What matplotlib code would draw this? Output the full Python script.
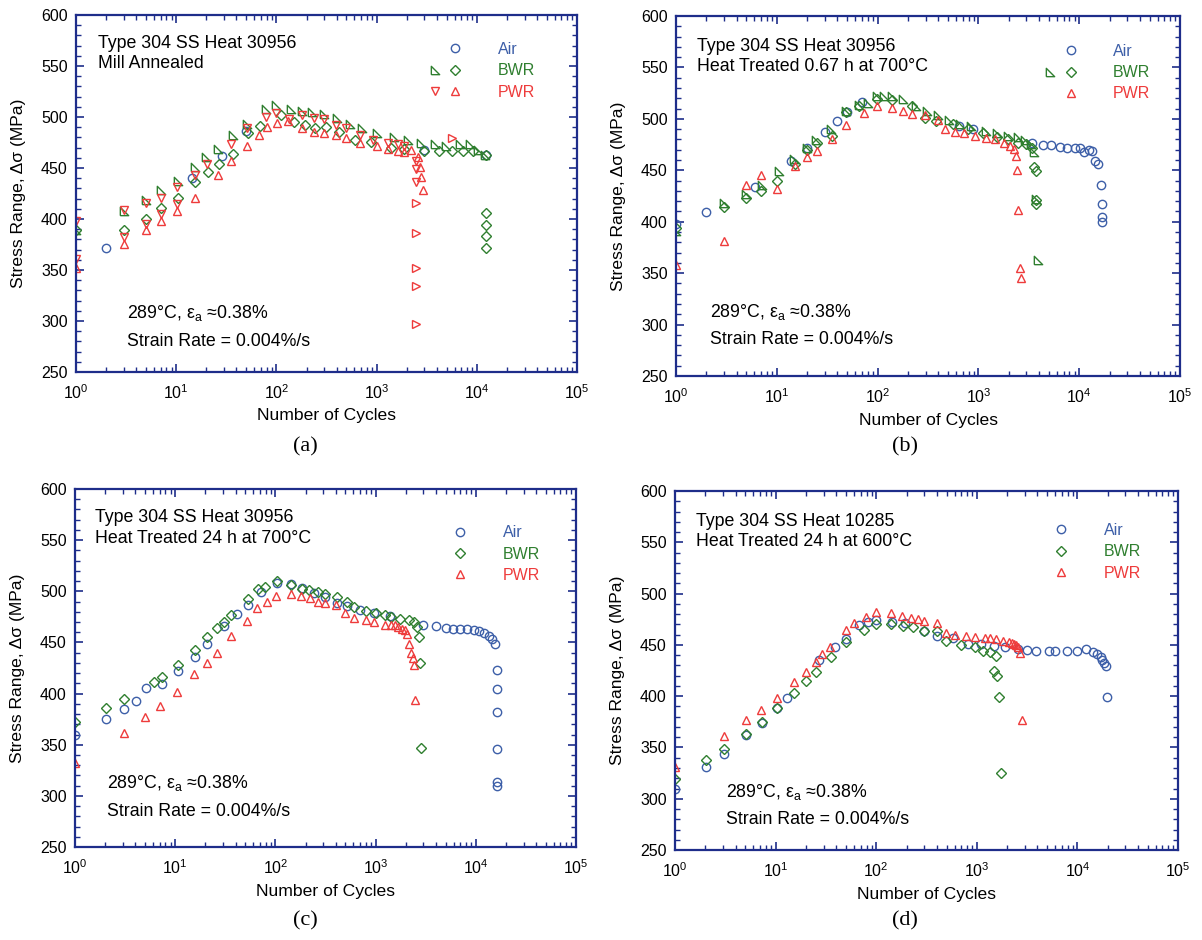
import matplotlib
matplotlib.use("Agg")
import matplotlib.pyplot as plt
from matplotlib.lines import Line2D
from matplotlib.legend_handler import HandlerTuple
from matplotlib.ticker import LogLocator, MultipleLocator, NullFormatter

# ---- data (cycles, stress range in MPa) ----
# (a) Heat 30956, mill annealed
a_air_n = [2, 14.5, 29, 50, 3000, 12500]
a_air_s = [372, 440, 462, 486, 468, 463]
a_bwr1_n = [1, 3, 5, 7, 10.5, 15.5, 20, 26, 37, 51, 78, 100, 140, 180, 228, 300, 400, 540, 710,
            1000, 1500, 2050, 2800, 3870, 4900, 6800, 8500, 10400, 12200]
a_bwr1_s = [389, 408, 419, 428, 437, 451, 461, 469, 482, 493, 508, 512, 508, 506, 505, 503, 499, 493, 489,
            484, 480, 477, 474, 473, 472, 473, 473, 468, 463]
a_bwr2_n = [1, 3, 5, 7, 10.5, 15.5, 21, 27, 37, 52, 68, 111, 150, 195, 245, 310, 420, 610, 870, 1400,
            1900, 3000, 4200, 5700, 7250, 9200, 12500, 12500, 12500, 12500, 12500]
a_bwr2_s = [389, 389, 400, 411, 421, 436, 446, 454, 464, 484, 491, 502, 495, 492, 489, 490, 485, 477, 475, 470,
            469, 467, 467, 467, 467, 467, 463, 406, 394, 383, 372]
a_pwr1_n = [1, 1, 3, 3, 5, 5, 7, 7, 10.3, 10.3, 15.3, 20.5, 35.5, 51, 78, 99, 135, 180, 236, 300, 395,
            500, 690, 930, 1290, 1630, 1900, 2450, 2450, 2450]
a_pwr1_s = [398, 361, 409, 382, 416, 395, 421, 405, 431, 415, 443, 454, 473, 489, 500, 504, 498, 502, 499, 498, 492,
            489, 482, 477, 474, 473, 472, 457, 449, 436]
a_pwr1f_n = [2470, 2470, 2480, 2480, 2480, 5700]
a_pwr1f_s = [416, 386, 352, 334, 297, 479]
a_pwr2_n = [1, 3, 5, 7, 10.3, 15.3, 26, 35.5, 51, 67, 80, 101, 132, 180, 236, 300, 395, 500, 690, 1000,
            1290, 1630, 1900, 2230, 2600, 2700, 2800, 2900]
a_pwr2_s = [352, 375, 389, 398, 408, 421, 443, 457, 472, 482, 490, 494, 496, 489, 485, 484, 482, 479, 474, 472,
            469, 467, 466, 468, 461, 451, 441, 428]

# (b) Heat 30956, heat treated 0.67 h at 700 C
b_air_n = [1, 2, 6.1, 13.7, 20, 30, 40, 50, 70.5, 635, 890, 3430, 4410, 5250, 6460, 7600, 9100, 10250,
           11200, 12600, 13500, 14400, 15200, 16300, 17000, 17000, 17000]
b_air_s = [398, 409, 434, 459, 472, 487, 498, 507, 516, 493, 490, 477, 475, 475, 473, 472, 472, 472,
           468, 470, 469, 459, 456, 436, 417, 405, 400]
b_bwr1_n = [1, 3, 5, 7.1, 10.4, 14.8, 20, 24.6, 34.6, 48.4, 65, 81, 99, 117, 138, 178, 240, 310, 400, 515,
            660, 850, 1200, 1540, 1980, 2450, 2900, 3300, 3560, 3700, 3870]
b_bwr1_s = [391, 418, 427, 436, 449, 461, 472, 479, 490, 508, 513, 515, 522, 522, 522, 519, 512, 508, 504, 499,
            495, 493, 488, 486, 483, 482, 479, 476, 468, 422, 363]
b_bwr2_n = [1, 3, 5, 7, 10, 15, 20, 25, 35, 49, 65, 99, 138, 220, 295, 380, 560, 780, 1100, 1530,
            1980, 2450, 3000, 3400, 3550, 3700, 3700, 3750]
b_bwr2_s = [394, 414, 423, 430, 440, 456, 470, 477, 483, 507, 512, 519, 518, 512, 501, 498, 495, 490, 486, 482,
            480, 477, 476, 472, 453, 449, 421, 417]
b_pwr_n = [1, 3, 5, 7, 10, 15, 20, 25, 35, 49, 74, 99, 138, 178, 220, 295, 400, 470, 580, 720, 920, 1200,
           1470, 1800, 2060, 2240, 2340, 2420, 2490, 2560, 2620]
b_pwr_s = [358, 381, 436, 445, 432, 454, 463, 469, 480, 494, 506, 512, 511, 508, 505, 504, 499, 490, 487, 486, 483, 481,
           480, 477, 474, 471, 464, 450, 411, 355, 345]

# (c) Heat 30956, heat treated 24 h at 700 C
c_air_n = [1, 2.06, 3.1, 4.1, 5.1, 7.3, 10.6, 15.7, 20.6, 30.5, 41.8, 52.7, 72, 103, 142, 186, 244, 310,
           408, 516, 705, 970, 1380, 2960, 3990, 5030, 5900, 6900, 8100, 9500, 10700, 12000, 13500,
           14600, 15400, 16100, 16100, 16100, 16100, 16100, 16100]
c_air_s = [360, 375, 385, 393, 405, 409, 422, 436, 448, 466, 478, 487, 499, 508, 507, 503, 498, 494,
           489, 486, 482, 479, 476, 467, 466, 464, 463, 463, 463, 462, 461, 459, 456,
           453, 448, 423, 404, 382, 346, 314, 310]
c_bwr_n = [1, 2.06, 3.1, 6.1, 7.3, 10.6, 15.7, 20.6, 26, 30.5, 35.7, 52.7, 67, 78, 103, 142, 186, 218, 265,
           310, 408, 516, 605, 800, 1000, 1230, 1440, 1750, 2140, 2400, 2580, 2690, 2800, 2860]
c_bwr_s = [372, 386, 395, 411, 416, 428, 443, 455, 464, 470, 477, 492, 502, 504, 510, 506, 502, 501, 499,
           497, 494, 490, 485, 481, 479, 477, 475, 473, 472, 470, 465, 455, 430, 347]
c_pwr_n = [1, 3.1, 5, 7.1, 10.4, 15.4, 20.6, 26, 35.7, 51.6, 66, 83, 101, 142, 182, 221, 265, 310, 400,
           500, 605, 800, 970, 1230, 1410, 1550, 1680, 1820, 1960, 2040, 2150, 2270, 2340, 2400, 2500]
c_pwr_s = [332, 361, 377, 388, 402, 419, 430, 440, 456, 471, 484, 490, 495, 497, 495, 493, 490, 489, 487,
           479, 474, 472, 470, 467, 467, 467, 465, 463, 462, 458, 448, 440, 435, 428, 394]

# (d) Heat 10285, heat treated 24 h at 600 C
d_air_n = [1, 2.05, 3.07, 5.1, 7.25, 10.2, 13.1, 27, 39, 50, 68, 82, 99, 145, 194, 297, 398, 585, 815,
           1100, 1480, 1900, 2560, 3150, 3890, 5230, 5920, 7950, 9830, 12100, 14300, 15600, 17000,
           17700, 18400, 19000, 19800]
d_air_s = [310, 331, 344, 362, 374, 388, 398, 435, 448, 456, 469, 472, 474, 472, 471, 464, 459, 457, 451,
           451, 449, 448, 446, 445, 444, 444, 444, 444, 444, 446, 443, 441, 438,
           435, 432, 429, 399]
d_bwr_n = [1, 2.05, 3.07, 5.1, 7.25, 10.2, 15.2, 20, 25.3, 35.5, 50, 75, 99, 139, 186, 230, 297, 398, 494,
           690, 965, 1150, 1350, 1540, 1480, 1580, 1670, 1740]
d_bwr_s = [319, 338, 349, 363, 375, 388, 403, 415, 424, 438, 453, 465, 470, 470, 468, 467, 464, 464, 454,
           450, 448, 444, 443, 439, 425, 420, 399, 325]
d_pwr_n = [1, 3.07, 5.1, 7.1, 10.2, 15.1, 20, 25, 29, 34.6, 49.6, 59.6, 79, 99, 141, 179, 221, 262, 301,
           398, 494, 608, 780, 965, 1200, 1350, 1540, 1820, 2070, 2240, 2350, 2450, 2560, 2700, 2830]
d_pwr_s = [331, 361, 377, 387, 398, 414, 424, 433, 441, 448, 465, 471, 477, 482, 481, 478, 476, 475, 473,
           471, 462, 460, 459, 458, 457, 457, 456, 454, 453, 452, 451, 450, 448, 442, 377]

titles = ["Type 304 SS Heat 30956\nMill Annealed",
          "Type 304 SS Heat 30956\nHeat Treated 0.67 h at 700°C",
          "Type 304 SS Heat 30956\nHeat Treated 24 h at 700°C",
          "Type 304 SS Heat 10285\nHeat Treated 24 h at 600°C"]
captions = ["(a)", "(b)", "(c)", "(d)"]

SPINE = "#1e2d8a"
AIR = "#3d5fa8"
BWR = "#2f7f2f"
PWR = "#ee3b3b"
TRI_BWR = [(-1, -1), (1, -1), (-1, 1), (-1, -1)]

plt.rcParams["font.family"] = ["Liberation Sans", "DejaVu Sans"]
plt.rcParams["mathtext.fontset"] = "custom"
plt.rcParams["mathtext.rm"] = "Liberation Sans"
plt.rcParams["mathtext.it"] = "Liberation Sans:italic"

fig = plt.figure(figsize=(12.02, 9.40), dpi=100)
rects = [[0.0632, 0.6043, 0.4168, 0.3798],
         [0.5624, 0.6000, 0.4193, 0.3830],
         [0.0624, 0.0989, 0.4168, 0.3809],
         [0.5616, 0.0957, 0.4185, 0.3819]]
axes = [fig.add_axes(r) for r in rects]


def mk(marker, color, ms=6):
    return dict(ls="none", marker=marker, mfc="none", mec=color, ms=ms, mew=1.0)


def setup(ax):
    ax.set_xscale("log")
    ax.set_xlim(1, 1e5)
    ax.set_ylim(250, 600)
    ax.yaxis.set_major_locator(MultipleLocator(50))
    ax.yaxis.set_minor_locator(MultipleLocator(10))
    ax.xaxis.set_major_locator(LogLocator(base=10, numticks=10))
    ax.xaxis.set_minor_locator(LogLocator(base=10, subs=range(2, 10), numticks=40))
    ax.xaxis.set_minor_formatter(NullFormatter())
    ax.tick_params(which="both", direction="in", top=True, right=True, color=SPINE)
    ax.tick_params(which="major", length=6, width=1.2, labelsize=11.5)
    ax.tick_params(which="minor", length=3.3, width=1.0)
    ax.tick_params(axis="x", pad=8)
    ax.tick_params(axis="y", pad=6)
    for s in ax.spines.values():
        s.set_color(SPINE)
        s.set_linewidth(1.6)
    ax.set_xlabel("Number of Cycles", fontsize=12.6)
    ax.set_ylabel("Stress Range, Δσ (MPa)", fontsize=12.6)
    ax.xaxis.set_label_coords(0.5, -0.102)
    ax.yaxis.set_label_coords(-0.10, 0.5)


def legend(ax, rows, x, y):
    leg = ax.legend([r[0] for r in rows], [r[1] for r in rows],
                    handler_map={tuple: HandlerTuple(ndivide=None, pad=0)},
                    loc="upper left", bbox_to_anchor=(x, y), frameon=False,
                    borderpad=0, borderaxespad=0, handlelength=2.6,
                    handletextpad=2.0, labelspacing=0.4, fontsize=11.5)
    for t, r in zip(leg.get_texts(), rows):
        t.set_color(r[2])


blank = Line2D([], [], ls="none", marker=None)

for ax in axes:
    setup(ax)

# (a)
ax = axes[0]
ax.plot(a_air_n, a_air_s, **mk("o", AIR))
ax.plot(a_bwr1_n, a_bwr1_s, **mk(TRI_BWR, BWR, 6))
ax.plot(a_bwr2_n, a_bwr2_s, **mk("D", BWR, 4.6))
ax.plot(a_pwr1_n, a_pwr1_s, **mk("v", PWR))
ax.plot(a_pwr1f_n, a_pwr1f_s, **mk(">", PWR))
ax.plot(a_pwr2_n, a_pwr2_s, **mk("^", PWR))
legend(ax, [((blank, Line2D([], [], **mk("o", AIR))), "Air", AIR),
            ((Line2D([], [], **mk(TRI_BWR, BWR)), Line2D([], [], **mk("D", BWR, 4.6))), "BWR", BWR),
            ((Line2D([], [], **mk("v", PWR)), Line2D([], [], **mk("^", PWR))), "PWR", PWR)],
       0.695, 0.924)

# (b)
ax = axes[1]
ax.plot(b_air_n, b_air_s, **mk("o", AIR))
ax.plot(b_bwr1_n, b_bwr1_s, **mk(TRI_BWR, BWR, 6))
ax.plot(b_bwr2_n, b_bwr2_s, **mk("D", BWR, 4.6))
ax.plot(b_pwr_n, b_pwr_s, **mk("^", PWR))
legend(ax, [((blank, Line2D([], [], **mk("o", AIR))), "Air", AIR),
            ((Line2D([], [], **mk(TRI_BWR, BWR)), Line2D([], [], **mk("D", BWR, 4.6))), "BWR", BWR),
            ((blank, Line2D([], [], **mk("^", PWR))), "PWR", PWR)],
       0.721, 0.923)

# (c)
ax = axes[2]
ax.plot(c_air_n, c_air_s, **mk("o", AIR))
ax.plot(c_bwr_n, c_bwr_s, **mk("D", BWR, 4.6))
ax.plot(c_pwr_n, c_pwr_s, **mk("^", PWR))
legend(ax, [((blank, Line2D([], [], **mk("o", AIR))), "Air", AIR),
            ((blank, Line2D([], [], **mk("D", BWR, 4.6))), "BWR", BWR),
            ((blank, Line2D([], [], **mk("^", PWR))), "PWR", PWR)],
       0.707, 0.899)

# (d)
ax = axes[3]
ax.plot(d_air_n, d_air_s, **mk("o", AIR))
ax.plot(d_bwr_n, d_bwr_s, **mk("D", BWR, 4.6))
ax.plot(d_pwr_n, d_pwr_s, **mk("^", PWR))
legend(ax, [((blank, Line2D([], [], **mk("o", AIR))), "Air", AIR),
            ((blank, Line2D([], [], **mk("D", BWR, 4.6))), "BWR", BWR),
            ((blank, Line2D([], [], **mk("^", PWR))), "PWR", PWR)],
       0.706, 0.911)

title_pos = [(0.044, 0.945), (0.041, 0.940), (0.039, 0.943), (0.042, 0.940)]
cond_pos = [(0.102, 0.165, 0.085), (0.067, 0.179, 0.100), (0.063, 0.178, 0.099), (0.102, 0.162, 0.084)]
cap_pos = [(305, 447), (905, 447), (305, 921), (905, 921)]

for ax, title, tp, cp, cap, cpos in zip(axes, titles, title_pos, cond_pos, captions, cap_pos):
    ax.text(tp[0], tp[1], title, transform=ax.transAxes, ha="left", va="top",
            fontsize=12.8, linespacing=1.25)
    ax.text(cp[0], cp[1], r"289°C, $\mathregular{\varepsilon_a}$ ≈0.38%", transform=ax.transAxes,
            ha="left", va="center", fontsize=12.8)
    ax.text(cp[0], cp[2], "Strain Rate = 0.004%/s", transform=ax.transAxes,
            ha="left", va="center", fontsize=12.8)
    fig.text(cpos[0] / 1202, 1 - cpos[1] / 940, cap, ha="center", va="center",
             family="Liberation Serif", fontsize=16)

fig.savefig("out.png", dpi=100)
